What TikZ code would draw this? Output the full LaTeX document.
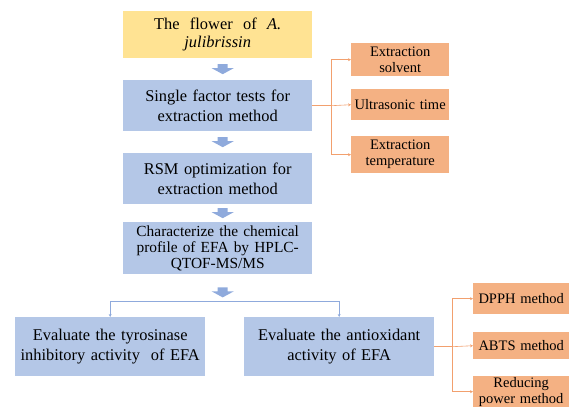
\documentclass[tikz,border=0pt]{standalone}
\usepackage{fontspec}
\setmainfont{Liberation Serif}
\usepackage{xcolor}
\usetikzlibrary{positioning}
\usetikzlibrary{calc,arrows.meta}

\definecolor{boxyellow}{HTML}{FFE393}
\definecolor{boxblue}{HTML}{B4C7E7}
\definecolor{boxorange}{HTML}{F4B183}
\definecolor{arrblue}{HTML}{8FAADC}
\definecolor{lineorange}{HTML}{F2A06E}

\tikzset{
  mainbox/.style={fill=boxblue, anchor=north west, align=center,
    text width=#1pt, inner sep=0pt, font=\fontsize{16.4}{19.5}\selectfont},
  factorbox/.style={fill=boxorange, anchor=north west, align=center,
    minimum width=#1pt, text width=#1pt, inner sep=0pt,
    font=\fontsize{14.5}{16}\selectfont},
  orangeline/.style={draw=lineorange, line width=0.6pt,
    -{Stealth[length=3pt,width=3pt]}},
  blueline/.style={draw=arrblue, line width=0.8pt,
    {Stealth[length=3pt,width=3pt]}-{Stealth[length=3pt,width=3pt]}},
  blockarr/.pic={
    \fill[arrblue] (-5,-5) -- (5,-5) -- (5,-1) -- (11,-1) -- (0,5)
      -- (-11,-1) -- (-5,-1) -- cycle;}
}

\begin{document}
\begin{tikzpicture}[x=1pt,y=-1pt]
\useasboundingbox (0,0) rectangle (579,409);
% main flow
\node[mainbox=189, fill=boxyellow, minimum height=47pt,
  font=\fontsize{16.4}{18}\selectfont]
  (flower) at (123,11) {The\hspace{0.3em} flower\hspace{0.3em} of\hspace{0.3em} \textit{A.}\\ \textit{julibrissin}};
\node[mainbox=189, minimum height=51pt]
  (single) at (123,80) {Single factor tests for\\ extraction method};
\node[mainbox=189, minimum height=51pt]
  (rsm) at (123,153) {RSM optimization for\\ extraction method};
\node[mainbox=189, minimum height=52pt, font=\fontsize{15.4}{16}\selectfont]
  (chem) at (123,222) {Characterize the chemical\\ profile of EFA by HPLC-\\ QTOF-MS/MS};
\node[mainbox=190, minimum height=59pt]
  (tyro) at (15,317) {Evaluate the tyrosinase\\ inhibitory activity\ \ of EFA};
\node[mainbox=190, minimum height=59pt]
  (anti) at (244,317) {Evaluate the antioxidant\\ activity of EFA};
% extraction factors
\node[factorbox=98, minimum height=33pt]
  (solvent) at (351,43) {Extraction\\ solvent};
\node[factorbox=98, minimum height=31pt]
  (ultra) at (351,89) {Ultrasonic time};
\node[factorbox=98, minimum height=37pt]
  (temp) at (351,136) {Extraction\\ temperature};
% antioxidant methods
\node[factorbox=96, minimum height=31pt]
  (dpph) at (473,283) {DPPH method};
\node[factorbox=96, minimum height=27pt]
  (abts) at (473,332) {ABTS method};
\node[factorbox=96, minimum height=31pt]
  (reduce) at (473,376) {Reducing\\ power method};

\path ($(flower.south)!0.5!(single.north)$) ++(5,0) pic {blockarr};
\path ($(single.south)!0.5!(rsm.north)$) ++(5,0) pic {blockarr};
\path ($(rsm.south)!0.5!(chem.north)$) ++(5,0) pic {blockarr};
\path ($(chem.south)+(5,18)$) pic {blockarr};

\draw[blueline] (tyro.north) |- ($(chem.south)+(0,27)$) -| (anti.north);

\coordinate (trunkA) at ($(single.east)+(19,0)$);
\draw[draw=lineorange, line width=0.6pt] (single.east) -- (trunkA);
\draw[orangeline] (trunkA) |- (solvent.west);
\draw[orangeline] (trunkA) -- (ultra.west);
\draw[orangeline] (trunkA) |- (temp.west);

\coordinate (trunkB) at ($(anti.east)+(18,0)$);
\draw[draw=lineorange, line width=0.6pt] (anti.east) -- (trunkB);
\draw[orangeline] (trunkB) |- (dpph.west);
\draw[orangeline] (trunkB) -- (abts.west);
\draw[orangeline] (trunkB) |- (reduce.west);
\end{tikzpicture}
\end{document}
